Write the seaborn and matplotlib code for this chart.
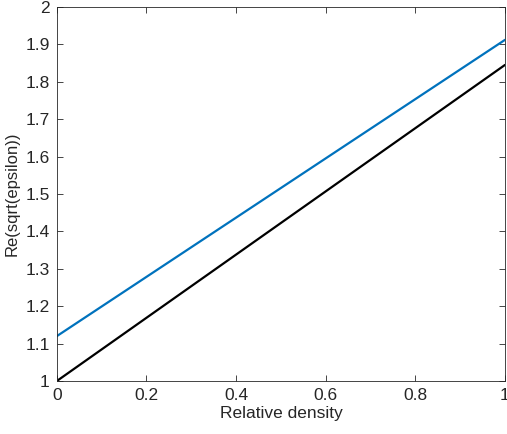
import pandas as pd
import numpy as np
import matplotlib.pyplot as plt
import seaborn as sns

# valeurs
density = [0.0, 1.0]
blue_vals = [1.12, 1.912]
black_vals = [1.0, 1.845]

df = pd.DataFrame({
    'density': density * 2,
    'value': blue_vals + black_vals,
    'serie': ['blue'] * 2 + ['black'] * 2,
})

sns.set_style('white')
plt.rcParams['font.family'] = ['Liberation Sans', 'DejaVu Sans']

fig = plt.figure(figsize=(5.07, 4.34), dpi=100)
ax = fig.add_axes([0.112, 0.122, 0.884, 0.862])

sns.lineplot(data=df, x='density', y='value', hue='serie',
             palette={'blue': '#0072BD', 'black': 'black'},
             linewidth=1.6, legend=False, ax=ax)

ax.set_xlim(0, 1)
ax.set_ylim(1, 2)
ax.set_xticks(np.arange(0, 1.01, 0.2))
ax.set_xticklabels(['0', '0.2', '0.4', '0.6', '0.8', '1'])
ax.set_yticks(np.arange(1, 2.01, 0.1))
ax.set_yticklabels(['1', '1.1', '1.2', '1.3', '1.4', '1.5', '1.6', '1.7', '1.8', '1.9', '2'])
ax.tick_params(direction='in', length=4, width=0.6, colors='#262626', labelsize=12.5,
               top=True, right=True, bottom=True, left=True, pad=5)
for s in ax.spines.values():
    s.set_color('#262626')
    s.set_linewidth(0.6)
ax.set_xlabel('Relative density', fontsize=12.5, color='#262626', labelpad=2)
ax.set_ylabel('Re(sqrt(epsilon))', fontsize=12, color='#262626', labelpad=4)

fig.savefig('out.png', dpi=100)
